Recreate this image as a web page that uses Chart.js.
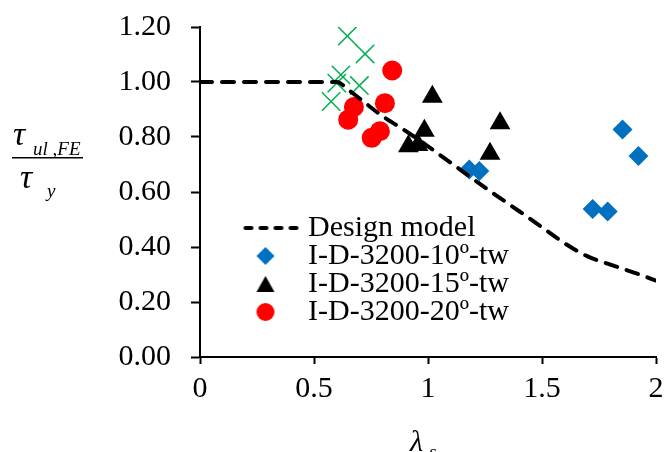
<!DOCTYPE html>
<html>
<head>
<meta charset="utf-8">
<script src="https://cdn.jsdelivr.net/npm/chart.js@4"></script>
<style>
  body { margin: 0; background: #fff; }
  #wrap { width: 665px; height: 452px; }
</style>
</head>
<body>
<div id="wrap"><canvas id="shearChart" width="665" height="452"></canvas></div>
<script>
// design model curve
const designX = [0, 0.6, 0.65, 0.7, 0.8, 0.9, 1.0, 1.1, 1.2, 1.3, 1.4, 1.5, 1.6, 1.7, 1.8, 1.9, 2.0];
const designY = [1.0, 1.0, 0.972, 0.94, 0.876, 0.823, 0.766, 0.706, 0.646, 0.587, 0.53, 0.472, 0.413, 0.366, 0.336, 0.308, 0.278];

// FE results
const tw10X = [1.181, 1.225, 1.722, 1.788, 1.853, 1.923];
const tw10Y = [0.682, 0.676, 0.538, 0.529, 0.827, 0.731];

const tw15X = [0.914, 0.956, 0.984, 1.019, 1.272, 1.316];
const tw15Y = [0.766, 0.771, 0.823, 0.946, 0.739, 0.850];

const tw20X = [0.650, 0.675, 0.753, 0.789, 0.811, 0.843];
const tw20Y = [0.863, 0.909, 0.797, 0.821, 0.923, 1.042];

// green crosses (not in legend)
const crossX = [0.575, 0.600, 0.618, 0.646, 0.699, 0.724];
const crossY = [0.929, 0.996, 1.026, 1.167, 0.987, 1.102];

const xTicks = [0, 0.5, 1, 1.5, 2];
const yTicks = [0, 0.2, 0.4, 0.6, 0.8, 1.0, 1.2];

const seriesNames = ['Design model', 'I-D-3200-10º-tw', 'I-D-3200-15º-tw', 'I-D-3200-20º-tw'];

const serif = '"Liberation Serif", "Times New Roman", serif';

function pts(xs, ys) {
    return xs.map((x, i) => ({ x: x, y: ys[i] }));
}

function icon(w, h, draw) {
    let c = document.createElement('canvas');
    c.width = w;
    c.height = h;
    draw(c.getContext('2d'));
    return c;
}

// legend icons
const legendIcons = [
    icon(76, 8, g => {
        g.strokeStyle = '#000';
        g.lineWidth = 4;
        g.lineCap = 'round';
        g.setLineDash([6, 9]);
        g.beginPath();
        g.moveTo(3, 4);
        g.lineTo(74, 4);
        g.stroke();
    }),
    icon(22, 22, g => {
        g.fillStyle = '#0070C0';
        g.beginPath();
        g.moveTo(11, 2); g.lineTo(20, 11); g.lineTo(11, 20); g.lineTo(2, 11);
        g.closePath();
        g.fill();
    }),
    icon(22, 22, g => {
        g.fillStyle = '#000';
        g.beginPath();
        g.moveTo(11, 3); g.lineTo(20, 19); g.lineTo(2, 19);
        g.closePath();
        g.fill();
    }),
    icon(22, 22, g => {
        g.fillStyle = '#FF0000';
        g.beginPath();
        g.arc(11, 11, 9, 0, Math.PI * 2);
        g.fill();
    })
];

// move the legend box onto the plot
const legendSpot = {
    id: 'legendSpot',
    afterLayout(chart) {
        let lg = chart.legend;
        let w = lg.width, h = lg.height;
        lg.left = 240;
        lg.top = 215;
        lg.right = lg.left + w;
        lg.bottom = lg.top + h;
    }
};

// axis titles with subscripts
const axisTitles = {
    id: 'axisTitles',
    afterDraw(chart) {
        let ctx = chart.ctx;
        ctx.save();
        ctx.fillStyle = '#000';
        ctx.textAlign = 'left';
        ctx.textBaseline = 'alphabetic';

        ctx.font = 'italic 34px ' + serif;
        ctx.fillText('τ', 13, 145);
        ctx.fillText('τ', 20, 188);
        ctx.font = 'italic 19px ' + serif;
        ctx.fillText('ul ,FE', 33, 155);
        ctx.fillText('y', 47, 197);
        ctx.fillRect(12, 157, 71, 1.5);

        ctx.font = 'italic 30px ' + serif;
        ctx.fillText('λ', 410, 451);
        ctx.font = 'italic 19px ' + serif;
        ctx.fillText('s', 429, 458);
        ctx.restore();
    }
};

new Chart(document.getElementById('shearChart'), {
    type: 'scatter',
    data: {
        datasets: [
            {
                type: 'line',
                label: seriesNames[0],
                data: pts(designX, designY),
                borderColor: '#000',
                borderWidth: 4,
                borderDash: [12, 10],
                borderCapStyle: 'round',
                cubicInterpolationMode: 'monotone',
                pointRadius: 0,
                fill: false
            },
            {
                label: seriesNames[1],
                data: pts(tw10X, tw10Y),
                pointStyle: 'rectRot',
                pointRadius: 10,
                backgroundColor: '#0070C0',
                borderColor: '#0070C0',
                borderWidth: 0
            },
            {
                label: seriesNames[2],
                data: pts(tw15X, tw15Y),
                pointStyle: 'triangle',
                pointRadius: 12,
                backgroundColor: '#000',
                borderColor: '#000',
                borderWidth: 0
            },
            {
                label: seriesNames[3],
                data: pts(tw20X, tw20Y),
                pointStyle: 'circle',
                pointRadius: 10,
                backgroundColor: '#FF0000',
                borderColor: '#FF0000',
                borderWidth: 0
            },
            {
                label: 'cross',
                data: pts(crossX, crossY),
                pointStyle: 'crossRot',
                pointRadius: 13,
                backgroundColor: '#00B050',
                borderColor: '#00B050',
                borderWidth: 1.5
            }
        ]
    },
    options: {
        responsive: false,
        animation: false,
        layout: { autoPadding: false, padding: { left: 0, top: 27, right: 9, bottom: 0 } },
        plugins: {
            tooltip: { enabled: false },
            legend: {
                position: 'chartArea',
                align: 'start',
                labels: {
                    usePointStyle: true,
                    pointStyleWidth: 55,
                    padding: -2,
                    color: '#000',
                    font: { family: serif, size: 30 },
                    generateLabels: chart =>
                        Chart.defaults.plugins.legend.labels.generateLabels(chart)
                            .map(item => Object.assign(item, { pointStyle: legendIcons[item.datasetIndex] })),
                    filter: item => item.datasetIndex < seriesNames.length
                }
            }
        },
        scales: {
            x: {
                type: 'linear',
                min: 0,
                max: 2,
                afterFit: s => {
                    s.height = 95;
                    s.paddingLeft = 0;
                    s.paddingRight = 0;
                },
                afterBuildTicks: s => { s.ticks = xTicks.map(v => ({ value: v })); },
                ticks: {
                    color: '#000',
                    padding: 7,
                    font: { family: serif, size: 30 },
                    callback: v => String(v)
                },
                grid: { drawOnChartArea: false, tickLength: 7, tickWidth: 2, color: '#000' },
                border: { display: true, color: '#000', width: 2 }
            },
            y: {
                min: 0,
                max: 1.2,
                afterFit: s => {
                    s.width = 200;
                    s.paddingTop = 0;
                    s.paddingBottom = 0;
                },
                afterBuildTicks: s => { s.ticks = yTicks.map(v => ({ value: v })); },
                ticks: {
                    color: '#000',
                    padding: 20,
                    font: { family: serif, size: 30 },
                    callback: v => v.toFixed(2)
                },
                grid: { drawOnChartArea: false, tickLength: 9, tickWidth: 2, color: '#000' },
                border: { display: true, color: '#000', width: 2 }
            }
        }
    },
    plugins: [legendSpot, axisTitles]
});
</script>
</body>
</html>
